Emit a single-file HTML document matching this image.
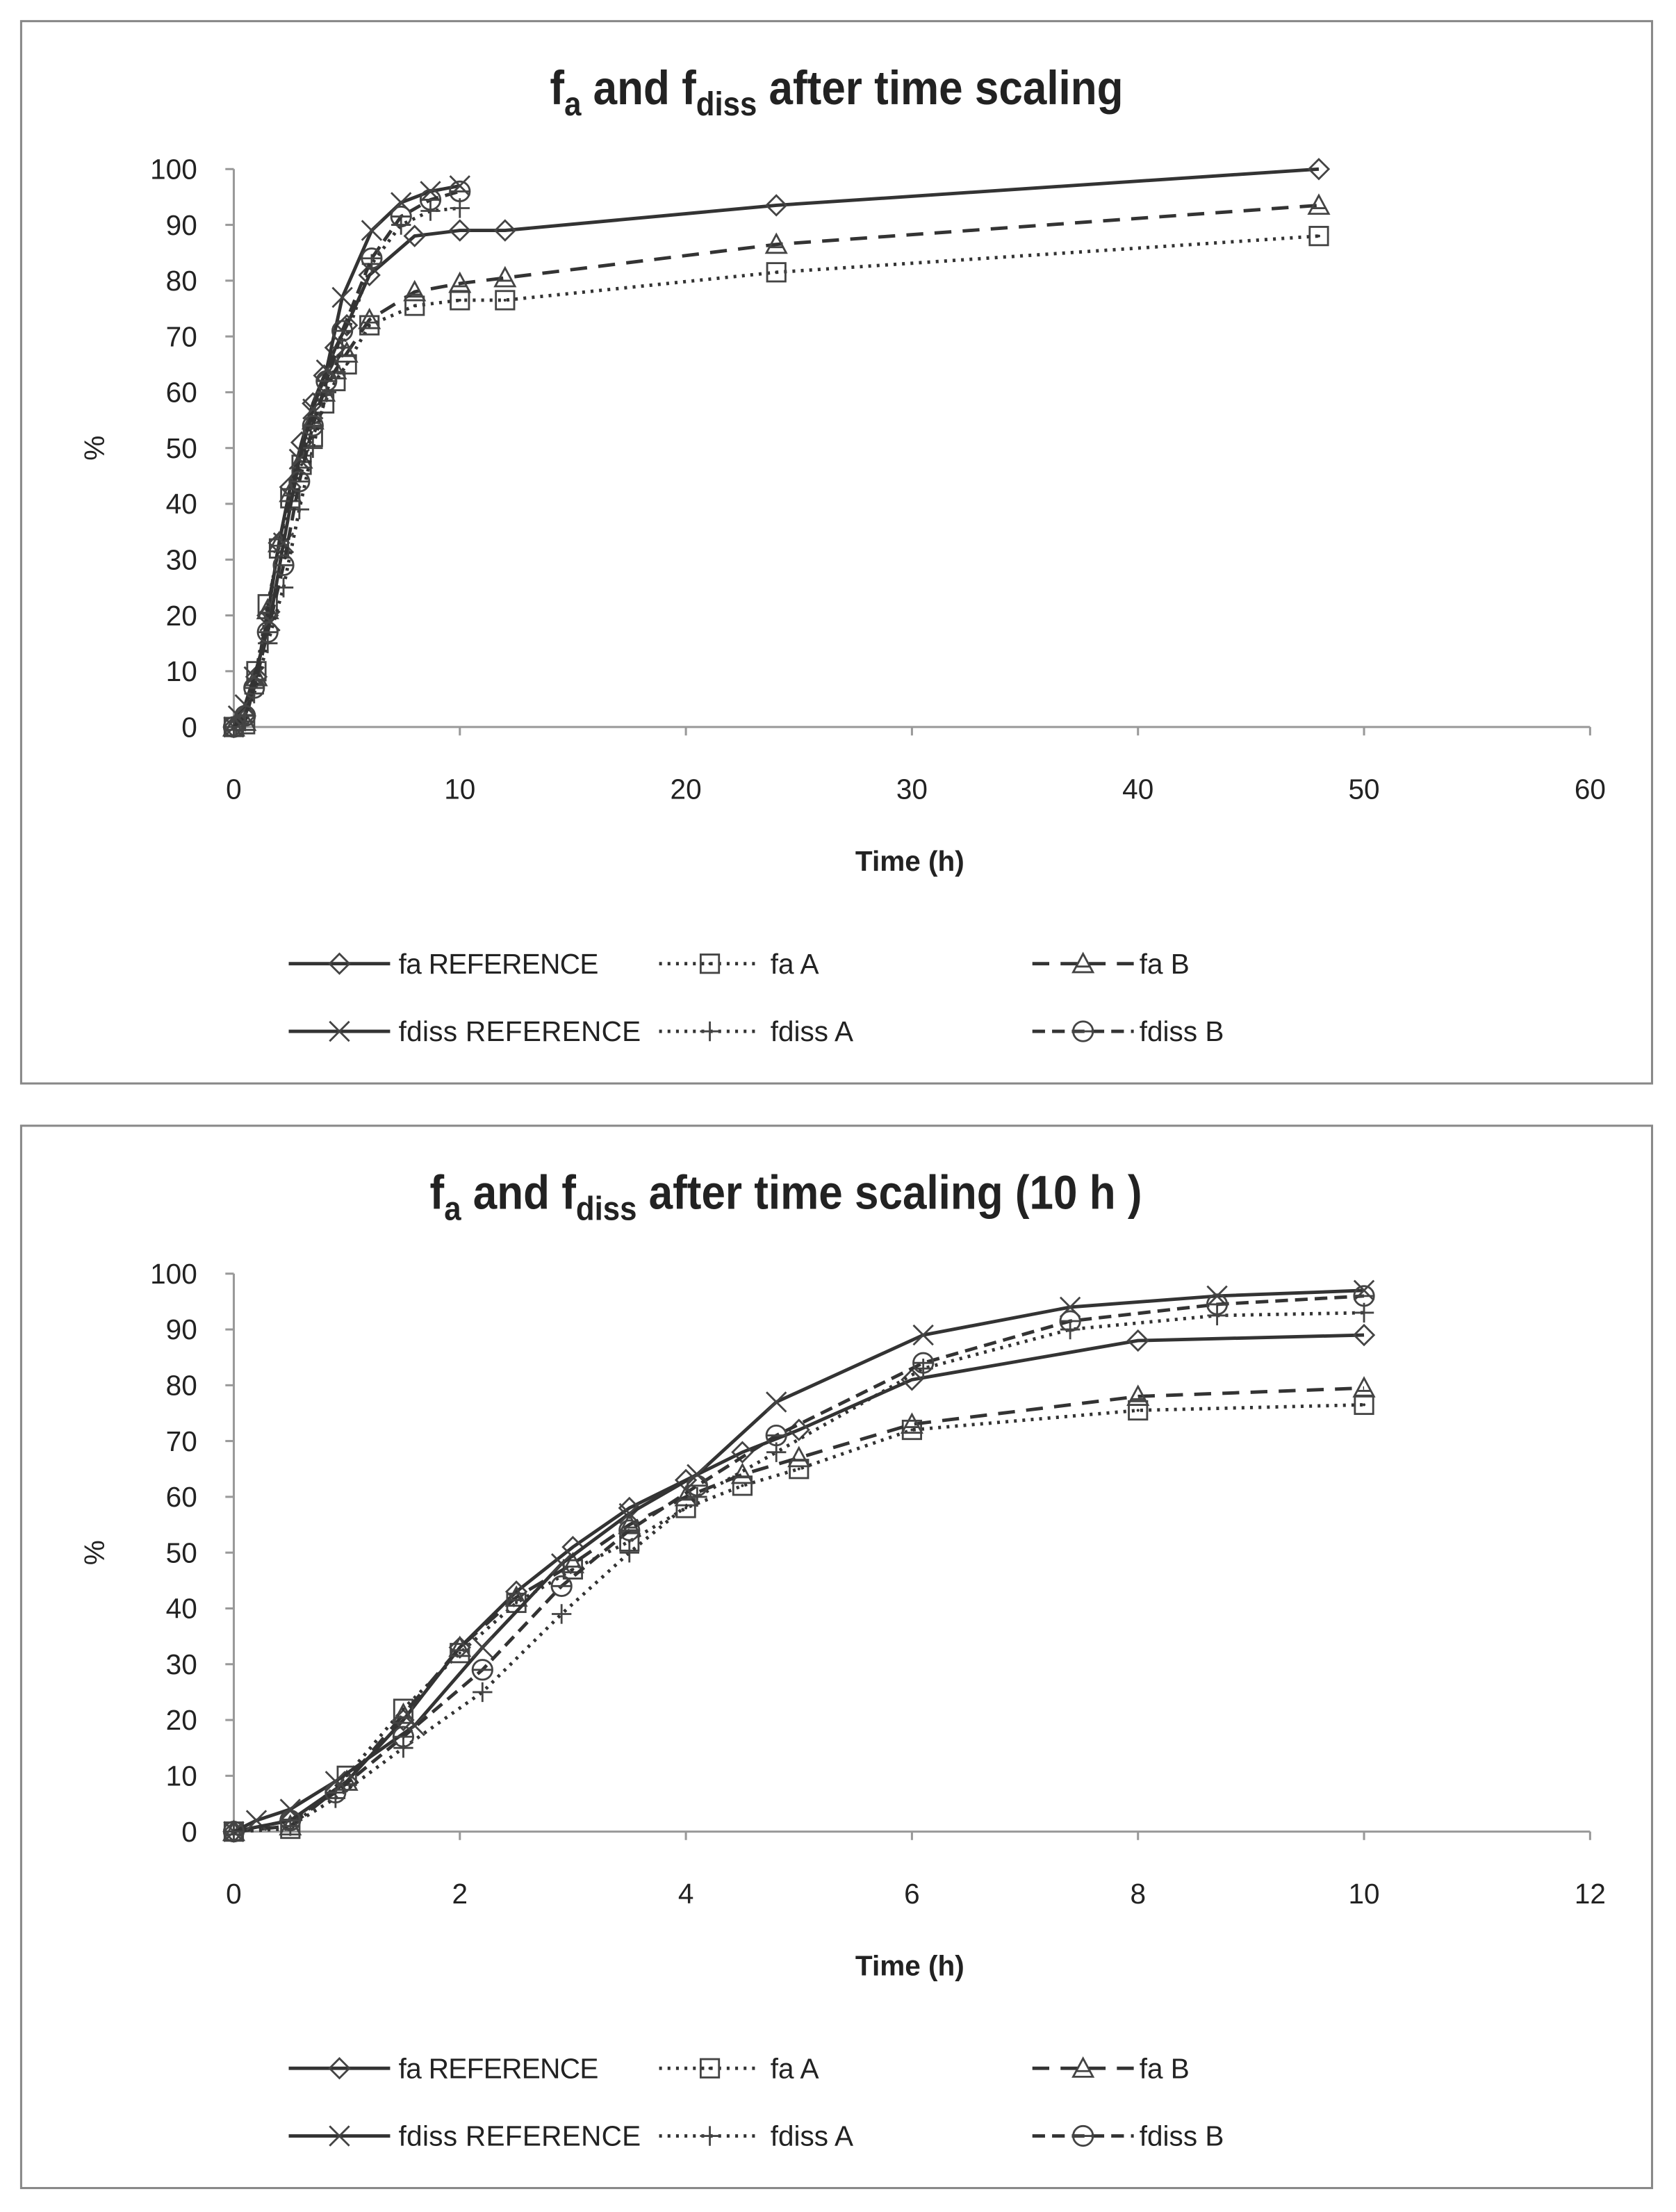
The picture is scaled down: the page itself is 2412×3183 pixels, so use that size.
<!DOCTYPE html>
<html><head><meta charset="utf-8"><style>
html,body{margin:0;padding:0;background:#fff}
svg{display:block}
text{font-family:"Liberation Sans",sans-serif;fill:#222}
</style></head><body>
<svg id="s" width="2412" height="3183" viewBox="0 0 1190 1570" preserveAspectRatio="none" xmlns="http://www.w3.org/2000/svg">
<rect x="0" y="0" width="1190" height="1570" fill="#fff"/>
<rect x="15" y="15" width="1158" height="754" fill="none" stroke="#888" stroke-width="1.5"/>
<rect x="15" y="799" width="1158" height="754" fill="none" stroke="#888" stroke-width="1.5"/>
<g transform="translate(594,0) scale(0.9,1)"><text x="0" y="74" font-size="34" font-weight="bold" text-anchor="middle">f<tspan font-size="24" dy="8">a</tspan><tspan dy="-8"> and f</tspan><tspan font-size="24" dy="8">diss</tspan><tspan dy="-8"> after time scaling</tspan></text></g>
<g transform="translate(558,0) scale(0.9,1)"><text x="0" y="858" font-size="34" font-weight="bold" text-anchor="middle">f<tspan font-size="24" dy="8">a</tspan><tspan dy="-8"> and f</tspan><tspan font-size="24" dy="8">diss</tspan><tspan dy="-8"> after time scaling  (10 h )</tspan></text></g>
<g id="axes" stroke="#999" stroke-width="1.5" fill="none"></g>
<g id="lab" font-size="20"></g>
<text x="646" y="618" font-size="20" font-weight="bold" text-anchor="middle">Time (h)</text>
<text x="646" y="1402" font-size="20" font-weight="bold" text-anchor="middle">Time (h)</text>
<text transform="translate(74,318) rotate(-90)" font-size="20" text-anchor="middle">%</text>
<text transform="translate(74,1102) rotate(-90)" font-size="20" text-anchor="middle">%</text>
<g id="series"></g>
<g font-size="20">
<text x="283" y="691" textLength="142">fa REFERENCE</text><text x="547" y="691">fa A</text><text x="809" y="691">fa B</text>
<text x="283" y="739" textLength="172">fdiss REFERENCE</text><text x="547" y="739">fdiss A</text><text x="809" y="739">fdiss B</text>
<text x="283" y="1475" textLength="142">fa REFERENCE</text><text x="547" y="1475">fa A</text><text x="809" y="1475">fa B</text>
<text x="283" y="1523" textLength="172">fdiss REFERENCE</text><text x="547" y="1523">fdiss A</text><text x="809" y="1523">fdiss B</text>
</g>
<g id="leg"></g>
</svg>
<script>
var NS="http://www.w3.org/2000/svg";
function el(p,t,a,txt){var e=document.createElementNS(NS,t);for(var k in a)e.setAttribute(k,a[k]);if(txt!==undefined)e.textContent=txt;p.appendChild(e);return e;}
var axes=document.getElementById('axes'),lab=document.getElementById('lab'),ser=document.getElementById('series'),leg=document.getElementById('leg');
var charts=[{y0:516,xmax:60,step:10,lim:60},{y0:1300,xmax:12,step:2,lim:10}];
charts.forEach(function(c){
  el(axes,'line',{x1:166,y1:c.y0-396,x2:166,y2:c.y0});
  el(axes,'line',{x1:166,y1:c.y0,x2:1129,y2:c.y0});
  for(var v=0;v<=100;v+=10){var y=c.y0-v*3.96;el(axes,'line',{x1:160,y1:y,x2:166,y2:y});el(lab,'text',{x:140,y:y+7,'text-anchor':'end'},String(v));}
  for(var t=0;t<=c.xmax;t+=c.step){var x=166+t*963/c.xmax;el(axes,'line',{x1:x,y1:c.y0,x2:x,y2:c.y0+6});el(lab,'text',{x:x,y:c.y0+51,'text-anchor':'middle'},String(t));}
});
var S=[
{m:'d',dash:'',d:[[0,0],[0.5,2],[1,9],[1.5,20],[2,33],[2.5,43],[3,51],[3.5,58],[4,63],[4.5,68],[5,72],[6,81],[8,88],[10,89],[12,89],[24,93.5],[48,100]]},
{m:'s',dash:'2,4',d:[[0,0],[0.5,0.5],[1,10],[1.5,22],[2,32],[2.5,41],[3,47],[3.5,52],[4,58],[4.5,62],[5,65],[6,72],[8,75.5],[10,76.5],[12,76.5],[24,81.5],[48,88]]},
{m:'t',dash:'12,8',d:[[0,0],[0.5,1],[1,9],[1.5,21],[2,33],[2.5,42],[3,48],[3.5,55],[4,60],[4.5,64],[5,67],[6,73],[8,78],[10,79.5],[12,80.5],[24,86.5],[48,93.5]]},
{m:'x',dash:'',d:[[0,0],[0.2,2],[0.5,4],[0.9,9],[1.6,19],[2.2,33],[2.9,48],[3.5,57],[4.1,64],[4.8,77],[6.1,89],[7.4,94],[8.7,96],[10,97]]},
{m:'p',dash:'2,4',d:[[0,0],[0.5,1],[0.9,6],[1.5,15],[2.2,25],[2.9,39],[3.5,50],[4.1,60],[4.8,68],[6.1,83],[7.4,90],[8.7,92.5],[10,93]]},
{m:'c',dash:'9,5',d:[[0,0],[0.5,2],[0.9,7],[1.5,17],[2.2,29],[2.9,44],[3.5,54],[4.1,62],[4.8,71],[6.1,84],[7.4,91.5],[8.7,94.5],[10,96]]}
];
function mk(g,m,x,y){var a={fill:'none',stroke:'#444','stroke-width':1.4};var r=7;
 if(m=='d'){a.points=[x,y-r,x+r,y,x,y+r,x-r,y].join(' ');el(g,'polygon',a);}
 else if(m=='s'){a.x=x-r+0.5;a.y=y-r+0.5;a.width=2*r-1;a.height=2*r-1;el(g,'rect',a);el(g,'circle',{cx:x,cy:y,r:1,fill:'#333'});}
 else if(m=='t'){a.points=[x,y-r,x+r,y+r-1,x-r,y+r-1].join(' ');el(g,'polygon',a);el(g,'line',{x1:x-r+2,y1:y+2,x2:x+r-2,y2:y+2,stroke:'#444','stroke-width':1.4});}
 else if(m=='x'){el(g,'path',{d:'M'+(x-r)+' '+(y-r)+'L'+(x+r)+' '+(y+r)+'M'+(x+r)+' '+(y-r)+'L'+(x-r)+' '+(y+r),stroke:'#444','stroke-width':1.4});}
 else if(m=='p'){el(g,'path',{d:'M'+(x-r)+' '+y+'L'+(x+r)+' '+y+'M'+x+' '+(y-r)+'L'+x+' '+(y+r),stroke:'#444','stroke-width':1.4});}
 else {a.cx=x;a.cy=y;a.r=r;el(g,'circle',a);el(g,'line',{x1:x-r,y1:y,x2:x+r,y2:y,stroke:'#444','stroke-width':1.4});}
}
charts.forEach(function(c){
  S.forEach(function(s){
    var pts=s.d.filter(function(p){return p[0]<=c.lim;}).map(function(p){return [166+p[0]*963/c.xmax,c.y0-p[1]*3.96];});
    var a={points:pts.map(function(p){return p.join(',');}).join(' '),fill:'none',stroke:'#333','stroke-width':2.4};
    if(s.dash)a['stroke-dasharray']=s.dash;
    el(ser,'polyline',a);
    pts.forEach(function(p){mk(ser,s.m,p[0],p[1]);});
  });
});
var LP=[[205,684],[468,684],[733,684],[205,732],[468,732],[733,732]];
[0,784].forEach(function(off){
  S.forEach(function(s,i){var x=LP[i][0],y=LP[i][1]+off;
    var a={x1:x,y1:y,x2:x+72,y2:y,stroke:'#333','stroke-width':2.4};if(s.dash)a['stroke-dasharray']=s.dash;
    el(leg,'line',a);mk(leg,s.m,x+36,y);});
});
</script>
</body></html>
